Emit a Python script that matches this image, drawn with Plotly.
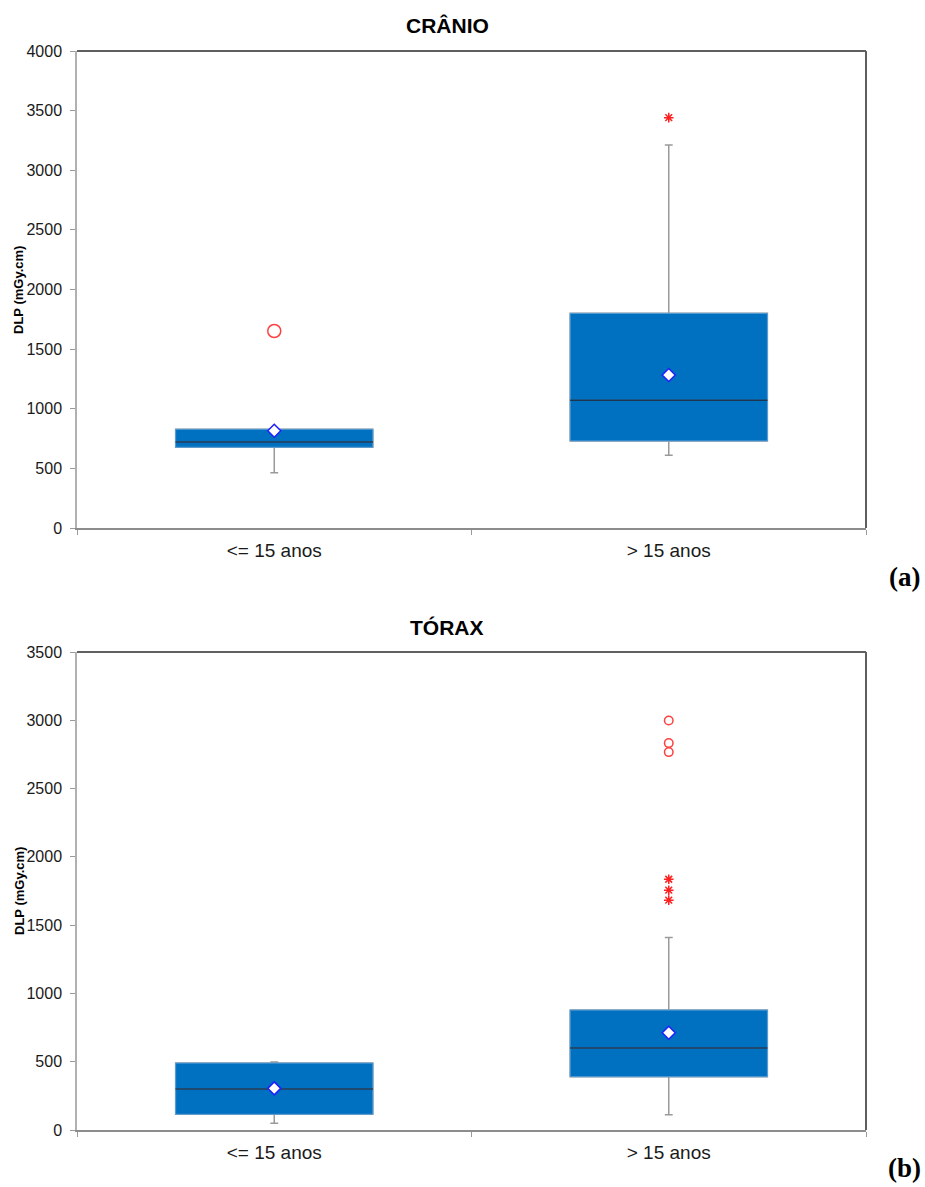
import plotly.graph_objects as go

categories = ["<= 15 anos", "> 15 anos"]
cat_pos = [0, 1]

# CRÂNIO
cranio_q1 = [677, 730]
cranio_median = [721, 1071]
cranio_q3 = [828, 1800]
cranio_lower = [464, 610]
cranio_upper = [828, 3212]
cranio_mean = [816, 1283]
cranio_mild = [[1652], []]
cranio_extreme = [[], [3441]]

# TÓRAX
torax_q1 = [115, 390]
torax_median = [300, 600]
torax_q3 = [490, 878]
torax_lower = [49, 112]
torax_upper = [497, 1410]
torax_mean = [305, 712]
torax_mild = [[], [2999, 2833, 2767]]
torax_extreme = [[], [1836, 1756, 1683]]

BLUE = "#0070c0"
BOX_HALF = 0.25
FONT = "Liberation Sans, Arial, sans-serif"

fig = go.Figure()


def add_panel(xr, yr, q1, med, q3, lo, up, mean, mild, extreme, mild_size):
    # whiskers (grey) + box
    fig.add_trace(go.Box(x=cat_pos, q1=q1, median=med, q3=q3, lowerfence=lo, upperfence=up,
                         width=0.5, fillcolor=BLUE, line=dict(color="#9a9a9a", width=1.5),
                         whiskerwidth=0.04, boxpoints=False, hoverinfo="skip",
                         xaxis=xr, yaxis=yr, showlegend=False))
    # box body with light outline (zero-length whiskers)
    fig.add_trace(go.Box(x=cat_pos, q1=q1, median=med, q3=q3, lowerfence=q1, upperfence=q3,
                         width=0.5, fillcolor=BLUE, line=dict(color="#5a9fd8", width=1),
                         whiskerwidth=0, boxpoints=False, hoverinfo="skip",
                         xaxis=xr, yaxis=yr, showlegend=False))
    # median lines
    for c, m in zip(cat_pos, med):
        fig.add_trace(go.Scatter(x=[c - BOX_HALF, c + BOX_HALF], y=[m, m], mode="lines",
                                 line=dict(color="#1e3550", width=1.5), xaxis=xr, yaxis=yr,
                                 showlegend=False, hoverinfo="skip"))
    # means
    fig.add_trace(go.Scatter(x=cat_pos, y=mean, mode="markers",
                             marker=dict(symbol="diamond", size=10, color="white",
                                         line=dict(color="#1f1fff", width=1.5)),
                             xaxis=xr, yaxis=yr, showlegend=False))
    # outliers
    for c, vals in zip(cat_pos, mild):
        if vals:
            fig.add_trace(go.Scatter(x=[c] * len(vals), y=vals, mode="markers",
                                     marker=dict(symbol="circle-open", size=mild_size,
                                                 color="#ff4040", line=dict(width=1.5)),
                                     xaxis=xr, yaxis=yr, showlegend=False))
    for c, vals in zip(cat_pos, extreme):
        if vals:
            fig.add_trace(go.Scatter(x=[c] * len(vals), y=vals, mode="markers",
                                     marker=dict(symbol="asterisk-open", size=8,
                                                 color="#ff2020", line=dict(width=1.5, color="#ff2020")),
                                     xaxis=xr, yaxis=yr, showlegend=False))


add_panel("x", "y", cranio_q1, cranio_median, cranio_q3, cranio_lower, cranio_upper,
          cranio_mean, cranio_mild, cranio_extreme, 13)
add_panel("x2", "y2", torax_q1, torax_median, torax_q3, torax_lower, torax_upper,
          torax_mean, torax_mild, torax_extreme, 8.5)

W, H = 925, 1187
xdom = [77 / W, 866 / W]
y1dom = [(H - 528) / H, (H - 51) / H]
y2dom = [(H - 1130) / H, (H - 652) / H]

xcommon = dict(range=[-0.5, 1.5], tickvals=cat_pos, ticktext=categories, ticks="",
               showline=True, linecolor="#8c8c8c", linewidth=1.5, showgrid=False, zeroline=False,
               tickfont=dict(family=FONT, size=19, color="#1a1a1a"), automargin=False,
               ticklabelstandoff=4,
               minor=dict(tickvals=[-0.5, 0.5, 1.5], ticks="outside", ticklen=5,
                          tickcolor="#9a9a9a", showgrid=False),
               domain=xdom, fixedrange=True)
ycommon = dict(ticks="outside", ticklen=5, tickcolor="#9a9a9a", showline=True,
               linecolor="#b0b0b0", linewidth=1.5, showgrid=False, zeroline=False,
               automargin=False, ticklabelstandoff=5, fixedrange=True,
               tickfont=dict(family=FONT, size=16, color="#1a1a1a"), dtick=500)

fig.update_layout(
    width=W, height=H, margin=dict(l=0, r=0, t=0, b=0, pad=0, autoexpand=False),
    paper_bgcolor="white", plot_bgcolor="white", boxmode="overlay",
    xaxis=dict(xcommon, anchor="y"),
    yaxis=dict(ycommon, range=[0, 4000], domain=y1dom, anchor="x"),
    xaxis2=dict(xcommon, anchor="y2"),
    yaxis2=dict(ycommon, range=[0, 3500], domain=y2dom, anchor="x2"),
)

shapes = []
for xr, yr in [("x", "y"), ("x2", "y2")]:
    shapes.append(dict(type="line", xref=f"{xr} domain", yref=f"{yr} domain", x0=0, x1=1, y0=1, y1=1,
                       line=dict(color="#5f5f5f", width=2)))
    shapes.append(dict(type="line", xref=f"{xr} domain", yref=f"{yr} domain", x0=1, x1=1, y0=0, y1=1,
                       line=dict(color="#5f5f5f", width=2)))
fig.update_layout(shapes=shapes)


def ann(text, xpx, ypx, size, family=FONT, angle=0):
    return dict(text=text, x=xpx / W, y=(H - ypx) / H, xref="paper", yref="paper",
                xanchor="center", yanchor="middle", showarrow=False, textangle=angle,
                font=dict(family=family, size=size, color="black"))


annotations = [
    ann("<b>CRÂNIO</b>", 447, 25, 21),
    ann("<b>TÓRAX</b>", 447, 627, 21),
    ann("<b>DLP (mGy.cm)</b>", 19, 290, 13, angle=-90),
    ann("<b>DLP (mGy.cm)</b>", 19, 891, 13, angle=-90),
    ann("<b>(a)</b>", 904, 577, 27, family="Liberation Serif, Times New Roman, serif"),
    ann("<b>(b)</b>", 904, 1168, 27, family="Liberation Serif, Times New Roman, serif"),
]
fig.update_layout(annotations=annotations)

fig.write_html("out.html", config={"displayModeBar": False},
               post_script="document.body.style.margin='0';document.body.style.overflow='hidden';")
